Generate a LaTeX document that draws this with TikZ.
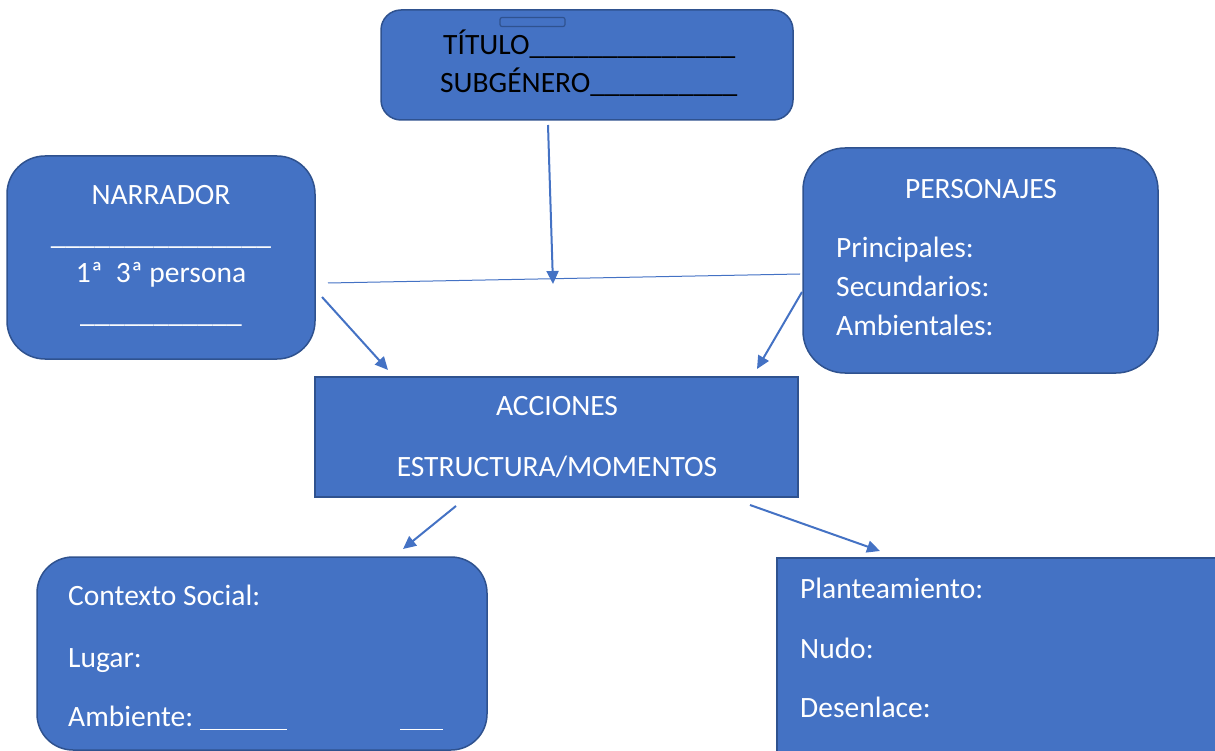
\documentclass[tikz,border=0pt]{standalone}
\usepackage{fontspec}
\setmainfont{Carlito}
\usetikzlibrary{arrows.meta}
\definecolor{boxfill}{HTML}{4472C4}
\definecolor{boxline}{HTML}{2F528F}
\tikzset{
  box/.style={draw=boxline, fill=boxfill, line width=1.5pt, inner sep=0pt},
  txt/.style={inner sep=0pt, text=white, font=\fontsize{29.5}{35}\selectfont},
  txtb/.style={txt, text=black},
  conn/.style={draw=boxfill, line width=2pt, -{Triangle[length=13pt,width=12pt]}},
  thin/.style={draw=boxfill, line width=1pt},
}
\begin{document}
\begin{tikzpicture}[x=1pt,y=-1pt]
\useasboundingbox (0,0) rectangle (1215,751);
\clip (0,0) rectangle (1215,751);
% boxes
\node[box, rounded corners=20pt, minimum width=412pt, minimum height=110pt] (top) at (587,65) {};
\node[draw=boxline, line width=1.2pt, rounded corners=2pt, minimum width=65pt, minimum height=9pt, inner sep=0pt] (tab) at (532.5,22) {};
\node[box, rounded corners=38pt, minimum width=308pt, minimum height=203pt] (narr) at (161,257.5) {};
\node[box, rounded corners=42pt, minimum width=355pt, minimum height=225pt] (pers) at (980.5,260.5) {};
\node[box, minimum width=483pt, minimum height=120pt] (acc) at (556.5,437) {};
\node[box, rounded corners=36pt, minimum width=450pt, minimum height=193pt] (ctx) at (262,653.5) {};
\node[box, minimum width=460pt, minimum height=220pt] (est) at (1007,668) {};
% texts
\node[txtb, anchor=base west] (t1) at (443,55) {TÍTULO\_\_\_\_\_\_\_\_\_\_\_\_\_\_};
\node[txtb, anchor=base west] (t2) at (440,93) {SUBGÉNERO\_\_\_\_\_\_\_\_\_\_};
\node[txt, anchor=base] (n1) at (161,205) {NARRADOR};
\node[txt, anchor=base] (n2) at (161,245) {\_\_\_\_\_\_\_\_\_\_\_\_\_\_\_};
\node[txt, anchor=base] (n3) at (161,283) {1ª\ \ 3ª persona};
\node[txt, anchor=base] (n4) at (161,322) {\_\_\_\_\_\_\_\_\_\_\_};
\node[txt, anchor=base] (p1) at (981,199) {PERSONAJES};
\node[txt, anchor=base west] (p2) at (836,258) {Principales:};
\node[txt, anchor=base west] (p3) at (836,297) {Secundarios:};
\node[txt, anchor=base west] (p4) at (836,335) {Ambientales:};
\node[txt, anchor=base] (a1) at (557,415) {ACCIONES};
\node[txt, anchor=base] (a2) at (557,476) {ESTRUCTURA/MOMENTOS};
\node[txt, anchor=base west] (c1) at (68,605) {Contexto Social:};
\node[txt, anchor=base west] (c2) at (68,667) {Lugar:};
\node[txt, anchor=base west] (c3) at (68,726) {Ambiente:};
\draw[white, line width=0.6pt] (200,729) -- (287,729);
\draw[white, line width=0.6pt] (400,729) -- (443,729);
\node[txt, anchor=base west] (e1) at (800,598) {Planteamiento:};
\node[txt, anchor=base west] (e2) at (800,658) {Nudo:};
\node[txt, anchor=base west] (e3) at (800,717) {Desenlace:};
% connector coordinates
\coordinate (hl) at (328,283);
\coordinate (hr) at (800,274);
\coordinate (ts) at (548,125);
\coordinate (te) at (553,284);
\coordinate (ns) at (322,297);
\coordinate (ne) at (388,370);
\coordinate (ps) at (802,292);
\coordinate (pe) at (757,369);
\coordinate (as) at (456,506);
\coordinate (ae) at (403,549);
\coordinate (bs) at (750,505);
\coordinate (be) at (880,551);
\draw[thin] (hl) -- (hr);
\draw[conn] (ts) -- (te);
\draw[conn] (ns) -- (ne);
\draw[conn] (ps) -- (pe);
\draw[conn] (as) -- (ae);
\draw[conn] (bs) -- (be);
\end{tikzpicture}
\end{document}
